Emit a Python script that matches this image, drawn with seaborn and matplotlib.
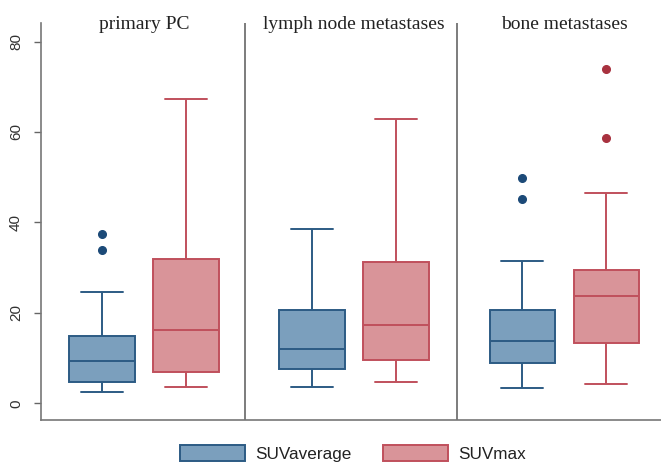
import numpy as np
import pandas as pd
import seaborn as sns
import matplotlib.pyplot as plt
from matplotlib.patches import Patch
import matplotlib.transforms as mtransforms

sns.set_style("white")
plt.rcParams['font.family'] = ['Liberation Sans', 'DejaVu Sans']

sites = ["primary PC", "lymph node metastases", "bone metastases"]
measures = ["SUVaverage", "SUVmax"]

# box summaries: [site][measure]
lower = [[2.6, 3.5], [3.7, 4.6], [3.3, 4.2]]
q1 = [[4.8, 7.0], [7.5, 9.5], [8.8, 13.4]]
median = [[9.3, 16.3], [11.9, 17.2], [13.7, 23.8]]
q3 = [[14.8, 32.0], [20.7, 31.3], [20.7, 29.5]]
upper = [[24.7, 67.4], [38.6, 62.8], [31.5, 46.5]]
outliers = [[[33.9, 37.5], []], [[], []], [[45.2, 49.8], [58.6, 74.0]]]

fill_colors = {"SUVaverage": "#7b9fbd", "SUVmax": "#d99499"}
edge_colors = {"SUVaverage": "#2c5b84", "SUVmax": "#c0505c"}
dot_colors = {"SUVaverage": "#1c4a78", "SUVmax": "#a8323f"}


def sample(lo, a, m, b, hi, out):
    # points whose linear quartiles / 1.5 IQR whiskers give exactly the read summary
    j = 1 + len(out)
    return [lo] + [a] * j + [m] * j + [b] * j + [hi] + list(out)


rows = []
for i, site in enumerate(sites):
    for k, meas in enumerate(measures):
        vals = sample(lower[i][k], q1[i][k], median[i][k], q3[i][k], upper[i][k], outliers[i][k])
        for v in vals:
            rows.append({"site": site, "measure": meas, "value": v})
df = pd.DataFrame(rows)

fig = plt.figure(figsize=(6.61, 4.62), dpi=100)
ax = fig.add_axes([41 / 661, 1 - 420 / 462, 1 - 41 / 661, (420 - 23) / 462])

for meas in measures:
    sub = df[df.measure == meas]
    sns.boxplot(data=sub, x="site", y="value", hue="measure", hue_order=measures,
                order=sites, palette=fill_colors, linecolor=edge_colors[meas],
                saturation=1, dodge=True, capwidths=0.2,
                linewidth=1.4, width=0.8, gap=0.22, whis=1.5, legend=False, ax=ax,
                flierprops=dict(marker="o", markersize=5.5, markerfacecolor=dot_colors[meas],
                                markeredgecolor=dot_colors[meas]))

ax.set_xlim(-0.49, 2.46)
ax.set_ylim(-3.7, 84.1)
ax.set_yticks([0, 20, 40, 60, 80])
ax.set_xticks([])
ax.set_xlabel("")
ax.set_ylabel("")
ax.tick_params(axis="y", left=True, length=5, width=1, color="#666666",
               labelsize=11, labelcolor="#333333", pad=8)
for t in ax.get_yticklabels():
    t.set_rotation(90)
    t.set_va("center")
for s in ["top", "right"]:
    ax.spines[s].set_visible(False)
for s in ["left", "bottom"]:
    ax.spines[s].set_color("#777777")
    ax.spines[s].set_linewidth(1.2)

for xd in [0.48, 1.49]:
    ax.axvline(xd, color="#666666", lw=1.2)

trans = mtransforms.blended_transform_factory(ax.transData, ax.transAxes)
for i, site in enumerate(sites):
    ax.text(i, 0.985, site, transform=trans, ha="center", va="baseline",
            family="Liberation Serif", fontsize=14, color="#222222")

handles = [Patch(facecolor=fill_colors[m], edgecolor=edge_colors[m], linewidth=1.4) for m in measures]
fig.legend(handles, measures, loc="center", bbox_to_anchor=(0.534, 0.018), ncol=2,
           frameon=False, fontsize=12.3, handlelength=3.8, handleheight=1.05,
           handletextpad=0.6, columnspacing=1.8, labelcolor="#222222")

fig.savefig("out.png", dpi=100)
